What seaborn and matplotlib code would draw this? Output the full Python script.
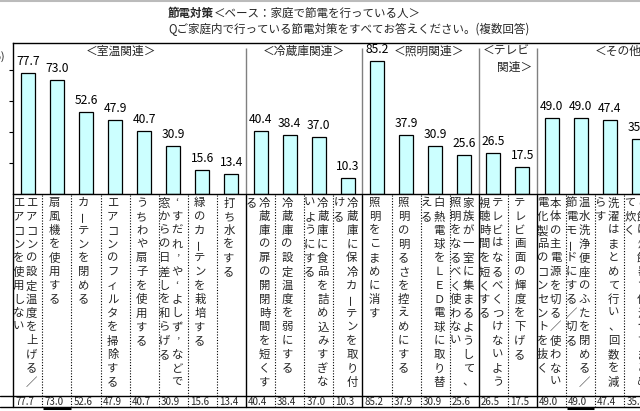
import matplotlib
matplotlib.use("Agg")
import matplotlib.pyplot as plt
import seaborn as sns
import pandas as pd
from matplotlib.lines import Line2D

# ---------------- data ----------------
items = [
    "エアコンの設定温度を上げる／エアコンを使用しない",
    "扇風機を使用する",
    "カーテンを閉める",
    "エアコンのフィルタを掃除する",
    "うちわや扇子を使用する",
    "‘すだれ’や‘よしず’などで窓からの日差しを和らげる",
    "緑のカーテンを栽培する",
    "打ち水をする",
    "冷蔵庫の扉の開閉時間を短くする",
    "冷蔵庫の設定温度を弱にする",
    "冷蔵庫に食品を詰め込みすぎないようにする",
    "冷蔵庫に保冷カーテンを取り付ける",
    "照明をこまめに消す",
    "照明の明るさを控えめにする",
    "白熱電球をＬＥＤ電球に取り替える",
    "家族が一室に集まるようして、照明をなるべく使わない",
    "テレビはなるべくつけないよう視聴時間を短くする",
    "テレビ画面の輝度を下げる",
    "本体の主電源を切る／使わない電化製品のコンセントを抜く",
    "温水洗浄便座のふたを閉める／節電モードにする／切る",
    "洗濯はまとめて行い、回数を減らす",
    "ご飯は炊飯器で保温せずまとめて炊く",
]
values = [77.7, 73.0, 52.6, 47.9, 40.7, 30.9, 15.6, 13.4,
          40.4, 38.4, 37.0, 10.3,
          85.2, 37.9, 30.9, 25.6,
          26.5, 17.5,
          49.0, 49.0, 47.4, 35.4]
group_names = ["＜室温関連＞", "＜冷蔵庫関連＞", "＜照明関連＞", "＜テレビ", "＜その他"]
group_sizes = [8, 4, 4, 2, 4]
yticks = [20, 40, 60, 80]
title_bold = "節電対策"
title_rest = "＜ベース：家庭で節電を行っている人＞"
title_q = "Qご家庭内で行っている節電対策をすべてお答えください。(複数回答)"

# ---------------- style ----------------
sns.set_theme(style="white")
plt.rcParams['font.family'] = ['Noto Sans CJK JP', 'DejaVu Sans']

W, H = 640, 411
X0, CW = 13.2, 29.1          # left of plot (px), column width (px)
YB, YT = 194.5, 43.0         # baseline and top of plot area (px)
ncol = len(values)

fig = plt.figure(figsize=(W / 100, H / 100), dpi=100)
fig.patch.set_facecolor("white")

ax = fig.add_axes([X0 / W, (H - YB) / H, ncol * CW / W, (YB - YT) / H])
df = pd.DataFrame({"item": items, "pct": values})
sns.barplot(data=df, x="item", y="pct", ax=ax, color="#CCFFFF", saturation=1,
            edgecolor="black", linewidth=0.9, width=0.48, errorbar=None)
ax.set_xlim(-0.5, ncol - 0.5)
ax.set_ylim(0, 97)
ax.set_xlabel("")
ax.set_ylabel("")
ax.set_xticks([])
ax.set_yticks(yticks)
ax.tick_params(axis="y", length=3, width=0.8, color="black", direction="out",
               left=True, labelleft=False)
for s in ["left", "top", "bottom"]:
    ax.spines[s].set_color("black")
    ax.spines[s].set_linewidth(1.0)
ax.spines["right"].set_visible(False)
ax.set_facecolor("white")

# value labels
for i, v in enumerate(values):
    ax.annotate(f"{v:.1f}", (i, v), xytext=(0, 5), textcoords="offset pixels",
                ha="center", va="bottom", fontsize=8.7, color="black")

# group separators and group labels
bounds = []
acc = 0
for g in group_sizes[:-1]:
    acc += g
    bounds.append(acc)
for b in bounds:
    ax.vlines(b - 0.5, 0, 94, color="#808080", lw=1)

ypx = lambda p: (YB - p) / ((YB - YT) / 97)
ax.text(3.2, ypx(51), group_names[0], ha="center", va="center", fontsize=8.5)
ax.text(9.5, ypx(51), group_names[1], ha="center", va="center", fontsize=8.5)
ax.text(13.8, ypx(51), group_names[2], ha="center", va="center", fontsize=8.5)
ax.text(15.65, ypx(51), group_names[3], ha="left", va="center", fontsize=8.5)
ax.text(16.12, ypx(67), "関連＞", ha="left", va="center", fontsize=8.5)
ax.text(19.5, ypx(51), group_names[4], ha="left", va="center", fontsize=8.5)

# ---------------- table below ----------------
tb = fig.add_axes([X0 / W, 0, ncol * CW / W, (H - YB) / H])
tb.set_xlim(-0.5, ncol - 0.5)
tb.set_ylim(H, YB)
tb.axis("off")

xleft = -0.5 - X0 / CW
for yy in [396, 407]:
    tb.plot([xleft, ncol - 0.5], [yy, yy], color="black", lw=1, clip_on=False)

solid_at = set([0] + bounds)
for k in range(ncol + 1):
    if k in solid_at:
        tb.plot([k - 0.5, k - 0.5], [YB, 407], color="black", lw=1, clip_on=False)
    else:
        tb.plot([k - 0.5, k - 0.5], [YB, 407], color="black", lw=0.8,
                ls=(0, (1, 1.5)), clip_on=False)

# underlined cells
for k in [1, 19]:
    tb.plot([k - 0.47, k + 0.47], [407.6, 407.6], color="black", lw=2.2,
            clip_on=False, solid_capstyle="butt")

# vertical (tategaki) labels, lines flow right-to-left
PER = 14
for i, lab in enumerate(items):
    chunks = [lab[j:j + PER] for j in range(0, len(lab), PER)]
    n = len(chunks)
    for li, ch in enumerate(chunks):
        xo = -2.5 + ((n - 1) / 2 - li) * 13
        for cj, c in enumerate(ch):
            rot = 90 if c in "ー" else 0
            tb.text(i + xo / CW, 203 + cj * 13.8, c, ha="center", va="center",
                    fontsize=8.2, rotation=rot, clip_on=False)

# value row
for i, v in enumerate(values):
    tb.text(i - 0.5 + 2 / CW, 401.7, f"{v:.1f}", ha="left", va="center",
            fontsize=7, clip_on=False)

# ---------------- titles / misc ----------------
t1 = fig.text(168 / W, 1 - 13 / H, title_bold, ha="left", va="center",
              fontsize=8.3, fontweight="bold")
ax.annotate(title_rest, xy=(1, 0.5), xycoords=t1, ha="left", va="center",
            fontsize=8.3, annotation_clip=False)
fig.text(168 / W, 1 - 29 / H, title_q, ha="left", va="center", fontsize=8.3)
fig.text(5 / W, 1 - 57 / H, "(%)", ha="right", va="center", fontsize=8)
fig.add_artist(Line2D([0, 1], [1 - 0.6 / H] * 2, color="#bbbbbb", lw=1.5))

fig.savefig("out.png", dpi=100)
